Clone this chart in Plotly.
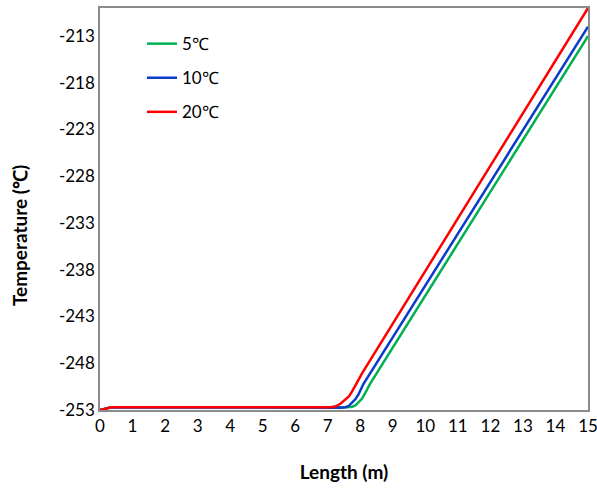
import plotly.graph_objects as go

names = ["5℃", "10℃", "20℃"]
colors = ["#00B050", "#0A3BCC", "#FF0000"]

x_5 = [0, 0.35, 7.6, 7.75, 7.85, 7.95, 8.05, 8.15, 8.3, 15]
y_5 = [-253, -252.7, -252.7, -252.65, -252.5, -252.2, -251.8, -251.2, -250.2, -213]

x_10 = [0, 0.35, 7.4, 7.55, 7.65, 7.75, 7.85, 7.95, 8.1, 15]
y_10 = [-253, -252.7, -252.75, -252.7, -252.55, -252.25, -251.85, -251.3, -250.2, -212]

x_20 = [0, 0.35, 7.1, 7.25, 7.4, 7.55, 7.65, 7.75, 7.9, 8.05, 15]
y_20 = [-253, -252.7, -252.7, -252.6, -252.3, -251.9, -251.55, -251.0, -250.0, -249.1, -210]

y_ticks = [-253, -248, -243, -238, -233, -228, -223, -218, -213]
y_ticktext = ["-253", "-248", "-243", "-238", "-233", "-228", "-223", "-218", "-213"]
x_ticks = list(range(0, 16))

fig = go.Figure()
for i, (xs, ys) in enumerate([(x_5, y_5), (x_10, y_10), (x_20, y_20)]):
    fig.add_trace(go.Scatter(
        x=xs, y=ys, mode="lines", name=names[i],
        line=dict(color=colors[i], width=2.5),
        legendgroup=str(i),
    ))

fig.update_layout(
    width=597, height=488,
    margin=dict(l=100, r=9, t=8, b=78, autoexpand=False),
    paper_bgcolor="white", plot_bgcolor="white",
    font=dict(family="Lato", size=17, color="#000000"),
    showlegend=True,
    legend=dict(x=0.086, y=0.955, xanchor="left", yanchor="top",
                bgcolor="rgba(0,0,0,0)", tracegroupgap=9,
                font=dict(size=17)),
    xaxis=dict(range=[0, 15], tickvals=x_ticks, ticks="", showgrid=False,
               zeroline=False, showline=True, linecolor="#8c8c8c", linewidth=1.5,
               mirror=True, tickfont=dict(size=17), automargin=False,
               ticklabeloverflow="allow",
               title=dict(text="<b>Length (m)</b>", font=dict(size=19), standoff=31)),
    yaxis=dict(range=[-253, -210], tickvals=y_ticks, ticktext=y_ticktext, ticks="",
               showgrid=False, zeroline=False, showline=True, linecolor="#8c8c8c",
               linewidth=1.5, mirror=True, tickfont=dict(size=17), automargin=False,
               ticklabeloverflow="allow"),
    annotations=[dict(text="<b>Temperature (℃)</b>", xref="paper", yref="paper",
                      x=-0.166, y=0.435, xanchor="center", yanchor="middle",
                      textangle=-90, showarrow=False, font=dict(size=19))],
)

fig.write_html("out.html")
